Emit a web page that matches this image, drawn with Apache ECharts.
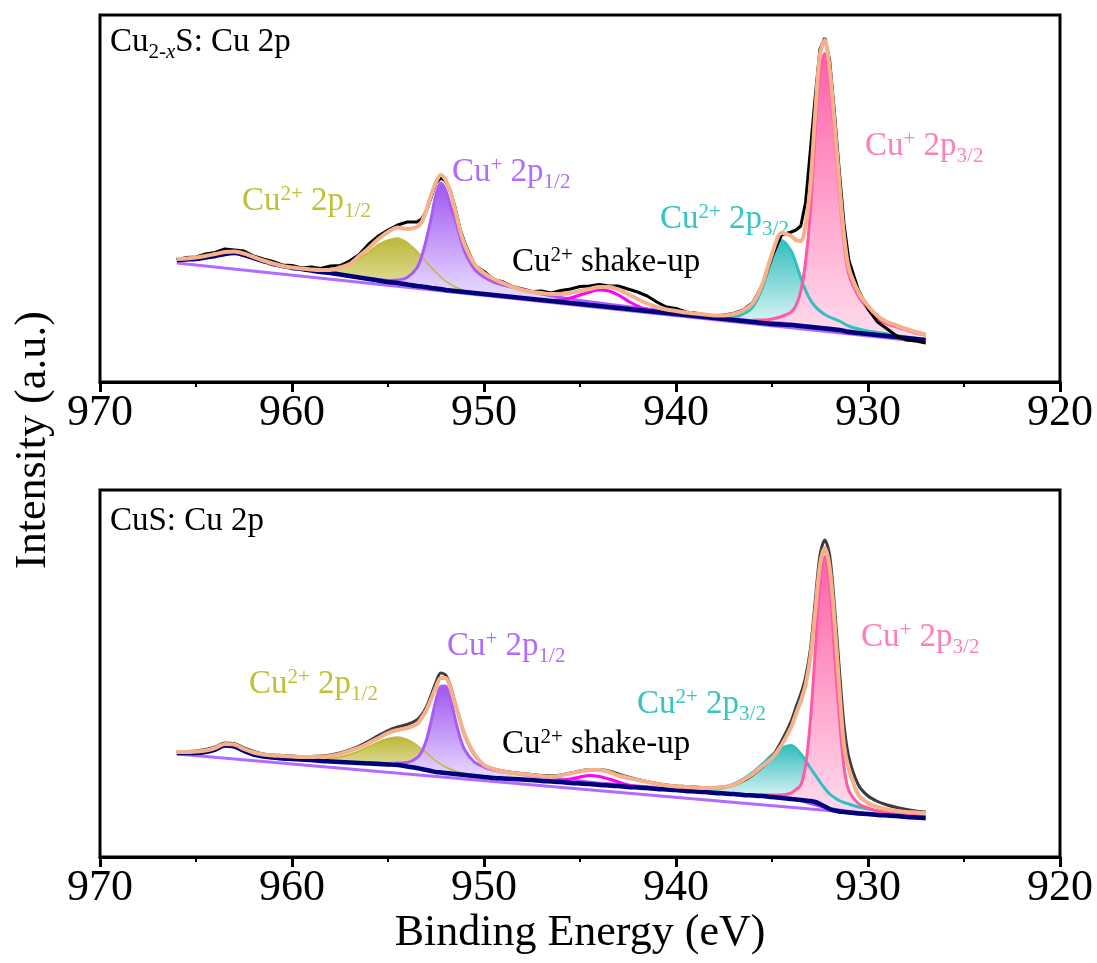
<!DOCTYPE html>
<html><head><meta charset="utf-8">
<script src="https://cdn.jsdelivr.net/npm/echarts@6/dist/echarts.min.js"></script>
<style>html,body{margin:0;padding:0;background:#fff}#c{width:1097px;height:963px}</style>
</head><body><div id="c"></div>
<script>
// ---------- DATA (binding energy in eV, intensity in a.u.) ----------
const E = [966,965.5,965,964.5,964,963.5,963,962.5,962,961.5,961,960.5,960,959.5,959,958.5,958,957.5,957,956.5,956,955.5,955,954.5,954,953.5,953.25,953,952.75,952.5,952.25,952,951.75,951.5,951.25,951,950.5,950,949.5,949,948.5,948,947.5,947,946.5,946,945.5,945,944.5,944,943.5,943,942.5,942,941.5,941,940.5,940,939.5,939,938.5,938,937.5,937,936.5,936,935.5,935,934.5,934,933.75,933.5,933.25,933,932.75,932.5,932.25,932,931.75,931.5,931.25,931,930.5,930,929.5,929,928.5,928,927.5,927];

// Panel 1: Cu(2-x)S
const bg1 = [122,122.5,123,124.5,126,128,129,127,124,121,118,116,114,113,111.5,110,109,107.5,106,104.5,103,101.5,100,99,97.5,96,95.5,95,94,93.5,93,92,91.5,91,90.5,90,89,88,87,86,85,84,83,82,81,80,79,78,77,76,75,74,73,72,71,70,69,68,67,66,65,64,63,62,61,60,59,58,57.5,57,56.5,56,55.5,55,54.5,54,53.5,53,52.5,52,51,50,49,48,47,46,45,44,43,42];
const env1 = [123,123.5,124.5,126,128,130,130.5,128.5,125,121.5,118.5,116,114.5,113.5,112.5,112,112,114.5,118,126,134,143,150,154.5,153,155,160,172,187,200,207,202,190,172,152,137,118,109,103,99,95,92,90,89,88,88,89,91,93,95,95,92.5,88,83,78.5,75,72.5,71,69.5,68.5,67.5,66.5,66.5,68,71.5,79,98,128,149,146,142,141,157,197,268,328,342,314,261,201,147,114,90,76,66,60,56.5,53,50,47.5];
const raw1 = [122,124.5,125,128,129.5,133,132,131,126,123,120.5,117,116.5,114,115,113.5,116,116.5,121,127.5,138,146,152,157,160,160,163,171,185,199,204,201,191,174,153,139,117,110.5,102.5,100,95.5,93,90.5,91,89,91.5,93,95.5,96,97.5,96,96,93,90,86,80,75,73.5,70,69,67,66,67,68.5,72,79.5,97,125,147,150,152,156,180,232,285,333,344,322,270,212,158,122,92,73,60,53,46,42,41,39];
const linE1 = [966,927], lin1 = [119,40];
const oliveE1 = [959,958.5,958,957.5,957,956.5,956,955.5,955,954.5,954,953.5,953,952.5,952,951.5,951,950.5,950];
const olive1  = [112,111,111.5,113.5,118,123.5,130,137.5,142,144,139.5,131,120,109.5,101,95,91.5,89.5,88];
const purpE1 = [956,955.5,955,954.5,954,953.5,953.25,953,952.75,952.5,952.25,952,951.75,951.5,951.25,951,950.5,950,949.5,949,948,947,946,945,944,942,940,938,936,934,932,930,928,927];
const purp1  = [103.8,102.5,101.5,102,104.5,114,125.5,143,164,187.5,199,192,176.5,163,145.5,130,113,105,100,97,92,88,84.5,81.5,79,74.2,70,65.5,61.2,58,54,48.5,44.5,42.5];
const magE1 = [947,946.5,946,945.5,945,944.5,944,943.5,943,942.5,942,941.5,941,940.5];
const mag1  = [82,81.5,82,84,87,90,92,91,87,81,76,72.5,70.5,69];
const tealE1 = [938.5,938,937.5,937,936.5,936,935.5,935,934.5,934,933.75,933.5,933.25,933,932.75,932.5,932.25,932,931.5,931,930.5,930,929,928,927];
const teal1  = [65,64.5,64,65,68,75,94,123,141.5,131,118.5,104,91.5,82,75.5,71,67.5,65,61,56,53,51,48,45,42.5];
const pinkE1 = [936,935.5,935,934.5,934,933.75,933.5,933.25,933,932.75,932.5,932.25,932,931.75,931.5,931.25,931,930.5,930,929.5,929,928.5,928,927.5,927];
const pink1  = [62,62,63,65.5,70,76.5,91,120.5,170,249.5,312,328.5,301,250.5,192,139,108,86,73,63,58,55,52,49,47];

// Panel 2: CuS
const bg2 = [104,104,104,105,107.5,111.5,110.5,106,102.5,100.5,99.5,98.5,98,97.5,97,96,95.5,95,94.5,94,93.5,93,92.5,92,90.5,89,88,87,86,85,84.5,84,83.5,83,82.5,82,81,80,79,78.5,78,77.5,77,76,75.5,75,74,73.5,73,72,71.5,71,70,69.5,69,68,67.5,67,66,65.5,65,64,63.5,63,62,61.5,61,60,59,58,57.5,57,56.5,56,55,53,50.5,48,46.5,45.5,45,44.5,43.5,43,42,41.5,41,40,39.5,39];
const env2 = [105,105,105.5,106.5,109,113,112.5,108,104.5,102.5,101.5,101,100.5,100,100,100.5,101,103,106,109.5,114,119,124,127,129,133,139,147,158,170,179,179,169,153,137,122,103,92,88,85.5,84,83,82,81,80,81.5,83.5,85.5,87,87,85,81.5,79,77,75,73,71.5,70.5,70,69.5,69,69,70,72,77,83,91,99,112,130,143,156,172,200,245,292,309,290,238,170,112,88,62,54,50,47.5,46,45,44.5,44];
const raw2 = [105,105.5,106,107.5,110,114,113.5,109,105.5,103,102,101.5,101,100.5,100.5,101,102,104,107,111,116,121.5,126.5,130,132.5,137,142,150,162,175,184,182,171,154,137,121,102,92,88,86,84.5,83.5,82.5,81.5,81,82,84,86,87.5,87.5,86,83,80,77.5,75.5,73.5,72,71,70.5,70,69.5,69.5,70,72,76,82,90,100,116,136,150,163,180,208,256,302,317,302,252,190,132,100,72,61,55.5,52,49.5,47.5,46,45];
const linE2 = [966,927], lin2 = [103,38];
const oliveE2 = [959.5,959,958.5,958,957.5,957,956.5,956,955.5,955,954.5,954,953.5,953,952.5,952,951.5,951,950.5,950];
const olive2  = [97.5,97.5,97.5,98.5,100,102.5,106,110.5,115,118.5,120,117.5,112,104,96,90,86,83.5,81.5,80];
const purpE2 = [956,955.5,955,954.5,954,953.5,953.25,953,952.75,952.5,952.25,952,951.75,951.5,951.25,951,950.5,950,949.5,949,948,947,946,945,944,942,940,938,936,934,932,930,928,927];
const purp2  = [94.5,94,93.5,94,94.5,99,105,117,136,157,170.5,171,158.5,138,119.5,107,95,90,87,85,82.5,80,78,76,74,71,68,64.5,62,58.5,48.5,43.5,40.5,39.5];
const magE2 = [947,946.5,946,945.5,945,944.5,944,943.5,943,942.5,942,941.5];
const mag2  = [76,76,76.5,78,80,81.5,80.5,78,75,72,70.2,69];
const tealE2 = [938.5,938,937.5,937,936.5,936,935.5,935,934.5,934,933.75,933.5,933.25,933,932.75,932.5,932.25,932,931.75,931.5,931.25,931,930.5,930,929.5,929,928.5,928,927.5,927];
const teal2  = [66,67,69.5,73,78,84.5,93,102,109,111.5,108.5,103,96.5,89,82,75,68.5,63,59.5,56.5,54.5,53,50,48,46,45,44,42.5,41.5,40.5];
const pinkE2 = [936,935,934.5,934,933.75,933.5,933.25,933,932.75,932.5,932.25,932,931.75,931.5,931.25,931,930.5,930,929.5,929,928.5,928,927.5,927];
const pink2  = [62.5,62,62,64,67.5,72,91.5,136,205,273,300.5,273,206.5,140.5,90,66.5,53.5,49,46,44.5,43.5,42,41.5,40.5];

const xTicks = [970,960,950,940,930,920];

// ---------- CHART ----------
const FONT = "'Liberation Serif','Times New Roman',serif";
const chart = echarts.init(document.getElementById('c'), null, {renderer:'canvas'});
const pairs = (es, vs) => es.map((e, i) => [e, vs[i]]);

const panels = [
  {bg:bg1, env:env1, raw:raw1, linE:linE1, lin:lin1, rawColor:'#000000', rawSmooth:false,
   olive:[oliveE1,olive1], purp:[purpE1,purp1], mag:[magE1,mag1], teal:[tealE1,teal1], pink:[pinkE1,pink1]},
  {bg:bg2, env:env2, raw:raw2, linE:linE2, lin:lin2, rawColor:'#3c3c3c', rawSmooth:0.3,
   olive:[oliveE2,olive2], purp:[purpE2,purp2], mag:[magE2,mag2], teal:[tealE2,teal2], pink:[pinkE2,pink2]}
];

const COL = {
  olive:{line:'#bdb936', top:'#bcb838', bot:'#dedb95'},
  purp:{line:'#a95cf5', top:'#a056f0', bot:'#e4d3ff'},
  teal:{line:'#2fc0c0', top:'#35bdbd', bot:'#dcf5f5'},
  pink:{line:'#ff5aa5', top:'#ff62a8', bot:'#ffd8eb'},
  mag:'#ff00ff', navy:'#00007a', lav:'#b36bff', env:'#f6b08a'
};

// filled band between a component curve and the background curve (no fill reaches the axis)
function band(g, key, p, z) {
  const [es, vs] = p[key];
  const topPts = pairs(es, vs);
  const botPts = es.slice().reverse().map(e => [e, p.bg[E.indexOf(e)]]);
  let mi = 0; vs.forEach((v, i) => { if (v > vs[mi]) mi = i; });
  const bgAt = p.bg[E.indexOf(es[mi])];
  const minBg = Math.min(...botPts.map(d => d[1]));
  const off = Math.max(0.05, Math.min(0.98, (vs[mi] - bgAt) / (vs[mi] - minBg)));
  return {
    type:'custom', coordinateSystem:'cartesian2d', xAxisIndex:g, yAxisIndex:g, z, silent:true, animation:false,
    data:[[es[mi], vs[mi]]],
    renderItem:(params, api) => ({
      type:'polygon',
      shape:{points:topPts.concat(botPts).map(d => api.coord(d))},
      style:{fill:new echarts.graphic.LinearGradient(0,0,0,1,[
        {offset:0, color:COL[key].top},{offset:off, color:COL[key].bot},{offset:1, color:COL[key].bot}])}
    })
  };
}

const series = [];
panels.forEach((p, g) => {
  const base = {type:'line', xAxisIndex:g, yAxisIndex:g, symbol:'none', silent:true, animation:false};
  series.push(band(g, 'olive', p, 1), band(g, 'purp', p, 1), band(g, 'teal', p, 1), band(g, 'pink', p, 1));
  const line = (es, vs, color, width, z, smooth) =>
    series.push(Object.assign({}, base, {z, smooth, data:pairs(es, vs), lineStyle:{color, width}}));
  line(p.linE, p.lin, COL.lav, 3, 3, false);
  line(p.olive[0], p.olive[1], COL.olive.line, 1.5, 3, 0.3);
  line(p.purp[0], p.purp[1], COL.purp.line, 3, 3, 0.3);
  line(p.mag[0], p.mag[1], COL.mag, 3, 3, 0.3);
  line(p.teal[0], p.teal[1], COL.teal.line, 3, 3, 0.3);
  line(p.pink[0], p.pink[1], COL.pink.line, 3, 3, 0.3);
  line(E, p.bg, COL.navy, 4.5, 4, 0.3);
  line(E, p.raw, p.rawColor, 3, 5, p.rawSmooth);
  line(E, p.env, COL.env, 4, 6, 0.3);
});

const mkX = g => ({
  gridIndex:g, type:'value', min:xTicks[xTicks.length-1], max:xTicks[0], interval:10, inverse:true,
  axisLine:{show:true, onZero:false, lineStyle:{color:'#000', width:3}},
  axisTick:{show:true, length:10, lineStyle:{color:'#000', width:3}},
  minorTick:{show:true, splitNumber:2, length:5, lineStyle:{color:'#000', width:2}},
  splitLine:{show:false}, minorSplitLine:{show:false},
  axisLabel:{fontSize:44, color:'#000', fontFamily:FONT, margin:9}
});
const mkY = g => ({gridIndex:g, type:'value', min:0, max:367, show:false});

// ---- labels with super/subscripts laid out piece by piece ----
const mctx = document.createElement('canvas').getContext('2d');
const FS = {m:33, sup:21, sub:21, subi:21};
const DY = {m:0, sup:-10, sub:7, subi:7};
function fontOf(kind) { return (kind === 'subi' ? 'italic ' : '') + FS[kind] + "px 'Liberation Serif'"; }
function label(x, baseline, parts, color) {
  const children = [];
  let cx = x;
  parts.forEach(([txt, kind]) => {
    const fs = FS[kind];
    children.push({type:'text', x:cx, y:baseline + DY[kind] - 0.3375 * fs, silent:true,
      style:{text:txt, fontSize:fs, fontFamily:FONT, fontStyle:kind === 'subi' ? 'italic' : 'normal',
             fill:color, align:'left', verticalAlign:'middle'}});
    mctx.font = fontOf(kind);
    cx += mctx.measureText(txt).width;
  });
  return {type:'group', z:100, silent:true, children};
}

const C = {olive:'#c3bf36', purp:'#b06bff', teal:'#36c4c4', pink:'#ff7fbd', black:'#000'};
const P_12 = [['Cu','m'],['+','sup'],[' 2p','m'],['1/2','sub']];
const P2_12 = [['Cu','m'],['2+','sup'],[' 2p','m'],['1/2','sub']];
const P_32 = [['Cu','m'],['+','sup'],[' 2p','m'],['3/2','sub']];
const P2_32 = [['Cu','m'],['2+','sup'],[' 2p','m'],['3/2','sub']];
const SHK = [['Cu','m'],['2+','sup'],[' shake-up','m']];
const graphics = [
  label(110, 53, [['Cu','m'],['2-','sub'],['x','subi'],['S: Cu 2p','m']], C.black),
  label(242, 212, P2_12, C.olive),
  label(452, 183, P_12, C.purp),
  label(512, 273, SHK, C.black),
  label(660, 230, P2_32, C.teal),
  label(865, 157, P_32, C.pink),
  label(110, 532, [['CuS: Cu 2p','m']], C.black),
  label(249, 695, P2_12, C.olive),
  label(447, 657, P_12, C.purp),
  label(502, 755, SHK, C.black),
  label(637, 715, P2_32, C.teal),
  label(861, 648, P_32, C.pink),
  {type:'text', x:580, y:933, z:100, silent:true,
   style:{text:'Binding Energy (eV)', fontSize:44, fontFamily:FONT, fill:'#000', align:'center', verticalAlign:'middle'}},
  {type:'text', x:33, y:440, rotation:Math.PI/2, z:100, silent:true,
   style:{text:'Intensity (a.u.)', fontSize:44, fontFamily:FONT, fill:'#000', align:'center', verticalAlign:'middle'}}
];

chart.setOption({
  animation:false,
  backgroundColor:'#ffffff',
  grid:[
    {left:100, right:37, top:15, height:367, show:true, borderColor:'#000', borderWidth:3, backgroundColor:'transparent'},
    {left:100, right:37, top:490, height:367, show:true, borderColor:'#000', borderWidth:3, backgroundColor:'transparent'}
  ],
  xAxis:[mkX(0), mkX(1)],
  yAxis:[mkY(0), mkY(1)],
  series,
  graphic:graphics
});
</script></body></html>
